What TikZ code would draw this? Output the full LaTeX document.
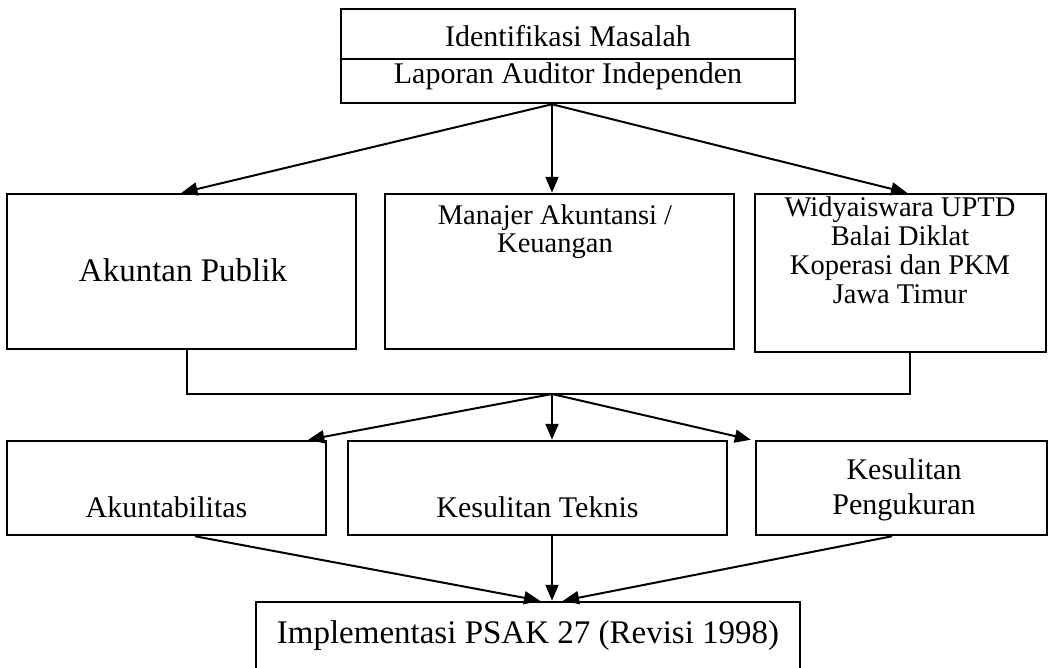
\documentclass[tikz,border=0pt]{standalone}
\usepackage{fontspec}
\setmainfont{Liberation Serif}
\usetikzlibrary{arrows.meta,calc}
\begin{document}
\begin{tikzpicture}[x=1pt,y=-1pt,
  box/.style={draw, line width=2.5pt, inner sep=0pt},
  txt/.style={anchor=base, inner sep=0pt, font=\fontsize{30}{30}\selectfont},
  big/.style={font=\fontsize{33}{33}\selectfont},
  small/.style={font=\fontsize{28.5}{28.5}\selectfont},
  arr/.style={line width=2pt, -{Triangle[length=16pt,width=13pt]}},
  ln/.style={line width=2pt}]
\useasboundingbox (0,0) rectangle (1051,667);
% boxes
\node[box, minimum width=454pt, minimum height=50pt] (top1) at (568,34) {};
\node[box, minimum width=454pt, minimum height=44pt] (top2) at (568,81) {};
\node[box, minimum width=349pt, minimum height=155pt] (ap) at (181.5,271.5) {};
\node[box, minimum width=349pt, minimum height=155pt] (mj) at (559.5,271.5) {};
\node[box, minimum width=291pt, minimum height=158pt] (wd) at (900.5,273) {};
\node[box, minimum width=319pt, minimum height=94pt] (ak) at (166.5,488) {};
\node[box, minimum width=379pt, minimum height=94pt] (kt) at (537.5,488) {};
\node[box, minimum width=291pt, minimum height=94pt] (kp) at (901.5,488) {};
\node[box, minimum width=544pt, minimum height=98pt] (im) at (528,651) {};
% texts
\node[txt] (t1) at (568,46) {Identifikasi Masalah};
\node[txt] (t2) at (568,83) {Laporan Auditor Independen};
\node[txt, big] (tap) at (183,281) {Akuntan Publik};
\node[txt, small] (tmj1) at (555,224) {Manajer Akuntansi /};
\node[txt, small] (tmj2) at (555,252) {Keuangan};
\node[txt, small] (twd1) at (900,216) {Widyaiswara UPTD};
\node[txt, small] (twd2) at (900,245) {Balai Diklat};
\node[txt, small] (twd3) at (900,274) {Koperasi dan PKM};
\node[txt, small] (twd4) at (900,303) {Jawa Timur};
\node[txt] (tak) at (166.5,517) {Akuntabilitas};
\node[txt] (tkt) at (537.5,517) {Kesulitan Teknis};
\node[txt] (tkp1) at (904,479) {Kesulitan};
\node[txt] (tkp2) at (904,514) {Pengukuran};
\node[txt, big] (tim) at (528,643) {Implementasi PSAK 27 (Revisi 1998)};
% connectors
\coordinate (s1) at ($(top2.south)+(-16,0)$);
\draw[arr] (s1) -- (ap.north);
\draw[arr] (s1) -- ($(mj.north)+(-7.5,0)$);
\draw[arr] (s1) -- ($(wd.north)+(6.5,0)$);
\coordinate (j) at (552,394);
\draw[ln] ($(ap.south)+(5.5,0)$) |- (j) -| ($(wd.south)+(9.5,0)$);
\draw[arr] (j) -- ($(ak.north east)+(-19,0)$);
\draw[arr] (j) -- ($(kt.north)+(14.5,0)$);
\draw[arr] (j) -- ($(kp.north west)+(-4,0)$);
\draw[arr] ($(ak.south)+(28.5,0)$) -- ($(im.north)+(12,0)$);
\draw[arr] ($(kt.south)+(14.5,0)$) -- ($(im.north)+(24,0)$);
\draw[arr] ($(kp.south)+(-9.5,0)$) -- ($(im.north)+(35,0)$);
\end{tikzpicture}
\end{document}
